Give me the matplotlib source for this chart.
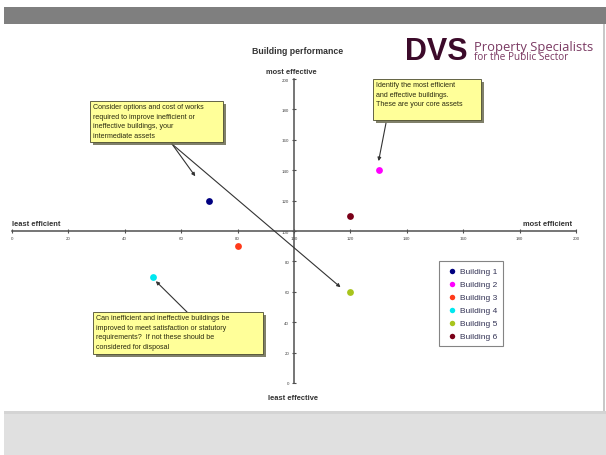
import matplotlib
matplotlib.use("Agg")
import matplotlib.pyplot as plt
from matplotlib.patches import Rectangle

plt.rcParams['font.family'] = ['Liberation Sans', 'DejaVu Sans']

# Building performance data: efficiency (x) vs effectiveness (y)
buildings = ["Building 1", "Building 2", "Building 3", "Building 4", "Building 5", "Building 6"]
efficiency = [70, 130, 80, 50, 120, 120]
effectiveness = [120, 140, 90, 70, 60, 110]
colors = ["#000080", "#ff00ff", "#ff3a1a", "#00e8f0", "#a8c41c", "#7a0018"]

ticks = list(range(0, 201, 20))

W, H = 606, 456


def px(x, y):
    """Pixel position (top-left origin) to figure fraction."""
    return (x / W, 1 - y / H)


fig = plt.figure(figsize=(W / 100, H / 100), dpi=100)
fig.patch.set_facecolor("white")

# page furniture: dark header band, white slide, light grey footer
fig.add_artist(Rectangle(px(4, 25), (W - 4) / W, 17 / H, transform=fig.transFigure,
                         facecolor="#7f7f7f", edgecolor="none", zorder=0))
fig.add_artist(Rectangle(px(4, 456), (W - 4) / W, 44 / H, transform=fig.transFigure,
                         facecolor="#e0e0e0", edgecolor="none", zorder=0))
fig.add_artist(Rectangle(px(4, 415), (W - 4) / W, 3 / H, transform=fig.transFigure,
                         facecolor="#d4d4d4", edgecolor="none", zorder=0))
fig.add_artist(Rectangle(px(603, 412), 1.5 / W, 387 / H, transform=fig.transFigure,
                         facecolor="#c8c8c8", edgecolor="none", zorder=0))

# quadrant chart
ax = fig.add_axes([12 / W, (H - 384) / H, (576 - 12) / W, (384 - 80) / H])
ax.set_facecolor("none")
ax.set_xlim(0, 200)
ax.set_ylim(0, 200)
for side in ("top", "right"):
    ax.spines[side].set_visible(False)
ax.spines["left"].set_position(("data", 100))
ax.spines["bottom"].set_position(("data", 100))
for side in ("left", "bottom"):
    ax.spines[side].set_color("#505050")
    ax.spines[side].set_linewidth(1.1)
ax.set_xticks(ticks)
ax.set_yticks(ticks)
ax.tick_params(axis="both", direction="inout", length=3, width=0.8, color="#505050",
               labelsize=3.2, labelcolor="#444444", pad=2)

for name, x, y, c in zip(buildings, efficiency, effectiveness, colors):
    ax.scatter([x], [y], s=24, color=c, label=name, zorder=5, linewidths=0)

# axis captions
cap = dict(fontsize=5.4, fontweight="bold", color="#333333", transform=fig.transFigure)
fig.text(*px(291, 72), "most effective", ha="center", va="center", **cap)
fig.text(*px(293, 398), "least effective", ha="center", va="center", **cap)
fig.text(*px(12, 225), "least efficient", ha="left", va="center", **cap)
fig.text(*px(572, 225), "most efficient", ha="right", va="center", **cap)
fig.text(*px(298, 51), "Building performance", ha="center", va="center",
         fontsize=6.3, fontweight="bold", color="#333333")

# logo
fig.text(*px(405, 52), "DVS", ha="left", va="center", fontsize=22, fontweight="bold",
         color="#3c0a2a")
fig.text(*px(474, 47), "Property Specialists", ha="left", va="center", fontsize=9.4,
         color="#7b3a63", family="Open Sans")
fig.text(*px(474, 58), "for the Public Sector", ha="left", va="center", fontsize=7.2,
         color="#7b3a63", family="Open Sans")


def note(x0, y0, x1, y1, text):
    shadow = Rectangle(px(x0 + 3, y1 + 3), (x1 - x0) / W, (y1 - y0) / H,
                       transform=fig.transFigure, facecolor="#6a6a50",
                       edgecolor="none", zorder=6, alpha=0.85)
    box = Rectangle(px(x0, y1), (x1 - x0) / W, (y1 - y0) / H, transform=fig.transFigure,
                    facecolor="#ffff99", edgecolor="#4a4a30", linewidth=0.6, zorder=7)
    fig.add_artist(shadow)
    fig.add_artist(box)
    fig.text(*px(x0 + 3, y0 + 2), text, ha="left", va="top", fontsize=5.1,
             color="#2a2a10", linespacing=1.55, zorder=8)


note(90, 102, 223, 143,
     "Consider options and cost of works\nrequired to improve inefficient or\n"
     "ineffective buildings, your\nintermediate assets")
note(373, 80, 481, 121,
     "Identify the most efficient\nand effective buildings.\nThese are your core assets")
note(93, 313, 263, 355,
     "Can inefficient and ineffective buildings be\nimproved to meet satisfaction or statutory\n"
     "requirements?  If not these should be\nconsidered for disposal")

arrow = dict(arrowstyle="-|>", color="#333333", lw=0.8, mutation_scale=5,
             shrinkA=0, shrinkB=0)
ax.annotate("", xy=(65, 136), xytext=px(172, 145), textcoords="figure fraction",
            arrowprops=arrow, zorder=9)
ax.annotate("", xy=(116.5, 63), xytext=px(172, 145), textcoords="figure fraction",
            arrowprops=arrow, zorder=9)
ax.annotate("", xy=(130, 146), xytext=px(386, 124), textcoords="figure fraction",
            arrowprops=arrow, zorder=9)
ax.annotate("", xy=(51, 67), xytext=px(187, 313), textcoords="figure fraction",
            arrowprops=arrow, zorder=9)

leg = ax.legend(loc="upper left", bbox_to_anchor=px(439, 262), bbox_transform=fig.transFigure,
                fontsize=6, frameon=True, fancybox=False, edgecolor="#666666",
                labelspacing=0.62, handletextpad=0.15, handlelength=1.6, borderpad=0.75,
                borderaxespad=0, markerscale=0.8)
leg.get_frame().set_linewidth(0.8)
for t in leg.get_texts():
    t.set_color("#333355")

fig.savefig("out.png", dpi=100)
